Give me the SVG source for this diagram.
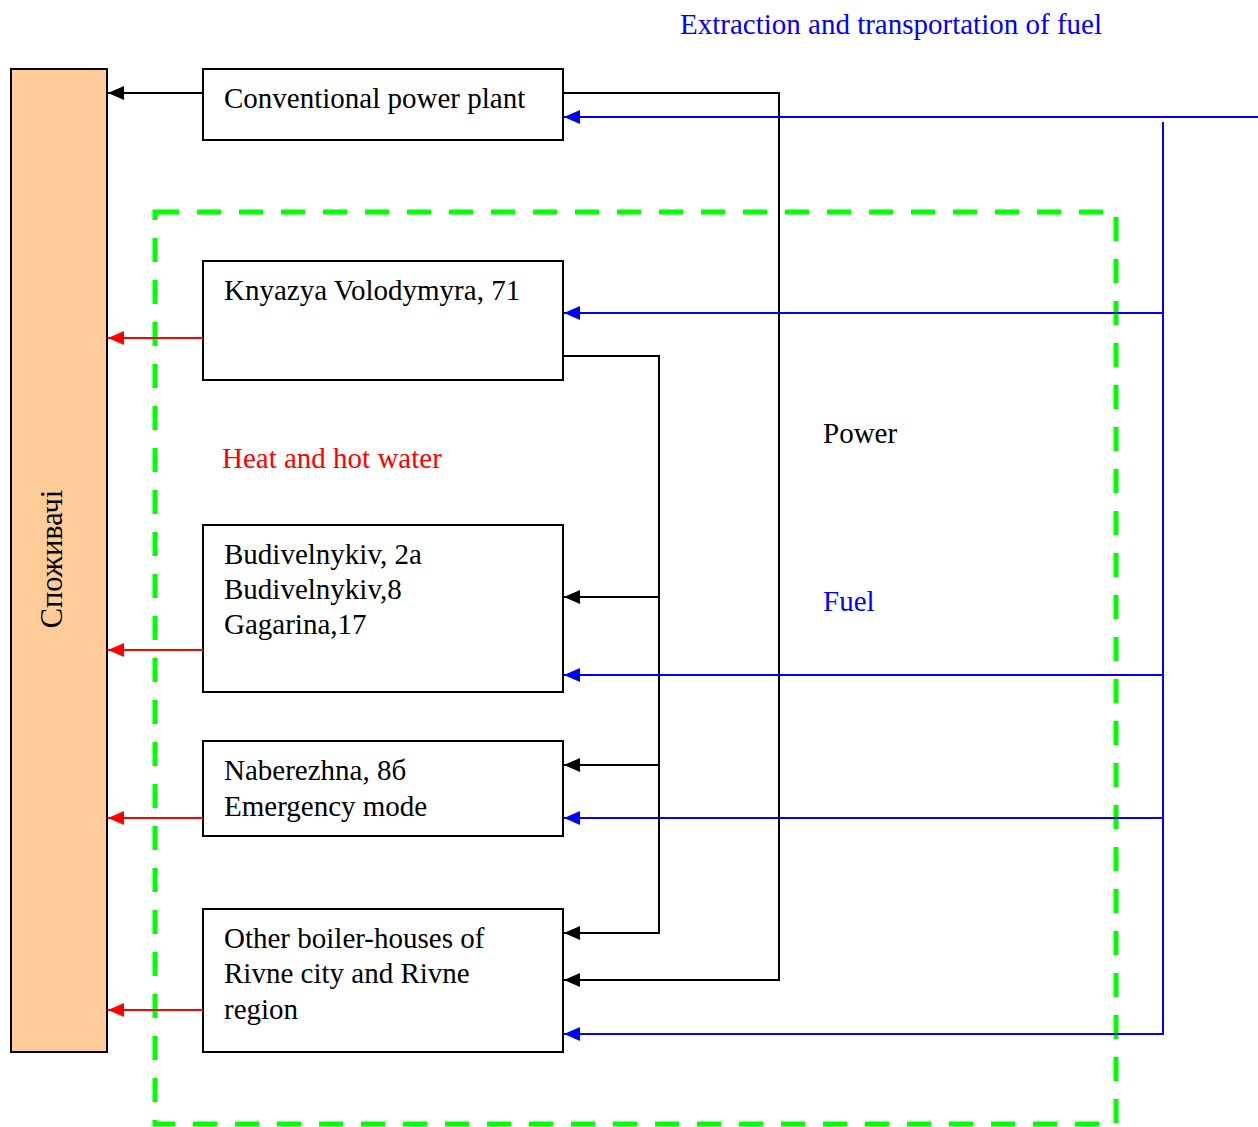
<svg xmlns="http://www.w3.org/2000/svg" width="1258" height="1127" viewBox="0 0 1258 1127">
  <style>
    text { font-family: "Liberation Serif", "Times New Roman", serif; font-size: 29px; }
    .box { fill: #ffffff; stroke: #000000; stroke-width: 2; }
    .consumer { fill: #ffcc99; stroke: #000000; stroke-width: 2; }
    .blk { fill: none; stroke: #000000; stroke-width: 2; }
    .blu { fill: none; stroke: #0000ff; stroke-width: 2; }
    .red { fill: none; stroke: #ff0000; stroke-width: 2; }
    .zone { fill: none; stroke: #00ff00; stroke-width: 5; stroke-dasharray: 24 18; }
  </style>
  <defs>
    <marker id="ab" viewBox="0 0 16 14" refX="16" refY="7" markerWidth="16" markerHeight="14" markerUnits="userSpaceOnUse" orient="auto">
      <path d="M0,0 L16,7 L0,14 Z" fill="#000000"/>
    </marker>
    <marker id="au" viewBox="0 0 16 14" refX="16" refY="7" markerWidth="16" markerHeight="14" markerUnits="userSpaceOnUse" orient="auto">
      <path d="M0,0 L16,7 L0,14 Z" fill="#0000ff"/>
    </marker>
    <marker id="ar" viewBox="0 0 16 14" refX="16" refY="7" markerWidth="16" markerHeight="14" markerUnits="userSpaceOnUse" orient="auto">
      <path d="M0,0 L16,7 L0,14 Z" fill="#ff0000"/>
    </marker>
  </defs>

  <!-- boundary of the district heating zone -->
  <rect class="zone" x="155" y="212" width="961" height="912"/>

  <!-- consumers -->
  <g id="consumers">
    <rect class="consumer" x="11" y="69" width="96" height="983"/>
    <text transform="translate(62,559) rotate(-90)" text-anchor="middle" style="font-size:30.5px">Споживачі</text>
  </g>

  <g id="conventional-plant">
    <rect class="box" x="203" y="69" width="360" height="71"/>
    <text x="224" y="108">Conventional power plant</text>
  </g>

  <g id="knyazya">
    <rect class="box" x="203" y="261" width="360" height="119"/>
    <text x="224" y="300">Knyazya Volodymyra, 71</text>
  </g>

  <g id="budivelnykiv">
    <rect class="box" x="203" y="525" width="360" height="167"/>
    <text x="224" y="564">Budivelnykiv, 2a</text>
    <text x="224" y="599">Budivelnykiv,8</text>
    <text x="224" y="634">Gagarina,17</text>
  </g>

  <g id="naberezhna">
    <rect class="box" x="203" y="741" width="360" height="95"/>
    <text x="224" y="780">Naberezhna, 8б</text>
    <text x="224" y="816">Emergency mode</text>
  </g>

  <g id="other-boilers">
    <rect class="box" x="203" y="909" width="360" height="143"/>
    <text x="224" y="948">Other boiler-houses of</text>
    <text x="224" y="983">Rivne city and Rivne</text>
    <text x="224" y="1019">region</text>
  </g>

  <g id="connectors">
    <!-- power -->
    <path class="blk" d="M203,93 H108" marker-end="url(#ab)"/>
    <path class="blk" d="M563,93 H779 V980 H564" marker-end="url(#ab)"/>
    <path class="blk" d="M563,356 H659 V933 H564" marker-end="url(#ab)"/>
    <path class="blk" d="M659,597 H564" marker-end="url(#ab)"/>
    <path class="blk" d="M659,765 H564" marker-end="url(#ab)"/>

    <!-- fuel -->
    <path class="blu" d="M1258,117 H564" marker-end="url(#au)"/>
    <path class="blu" d="M1163,122 V1034 H564" marker-end="url(#au)"/>
    <path class="blu" d="M1163,313 H564" marker-end="url(#au)"/>
    <path class="blu" d="M1163,675 H564" marker-end="url(#au)"/>
    <path class="blu" d="M1163,818 H564" marker-end="url(#au)"/>

    <!-- heat and hot water -->
    <path class="red" d="M203,338 H108" marker-end="url(#ar)"/>
    <path class="red" d="M203,650 H108" marker-end="url(#ar)"/>
    <path class="red" d="M203,818 H108" marker-end="url(#ar)"/>
    <path class="red" d="M203,1010 H108" marker-end="url(#ar)"/>
  </g>

  <g id="labels">
    <text x="680" y="34" fill="#0000ff">Extraction and transportation of fuel</text>
    <text x="222" y="468" fill="#ff0000">Heat and hot water</text>
    <text x="823" y="443">Power</text>
    <text x="823" y="611" fill="#0000ff">Fuel</text>
  </g>
</svg>
